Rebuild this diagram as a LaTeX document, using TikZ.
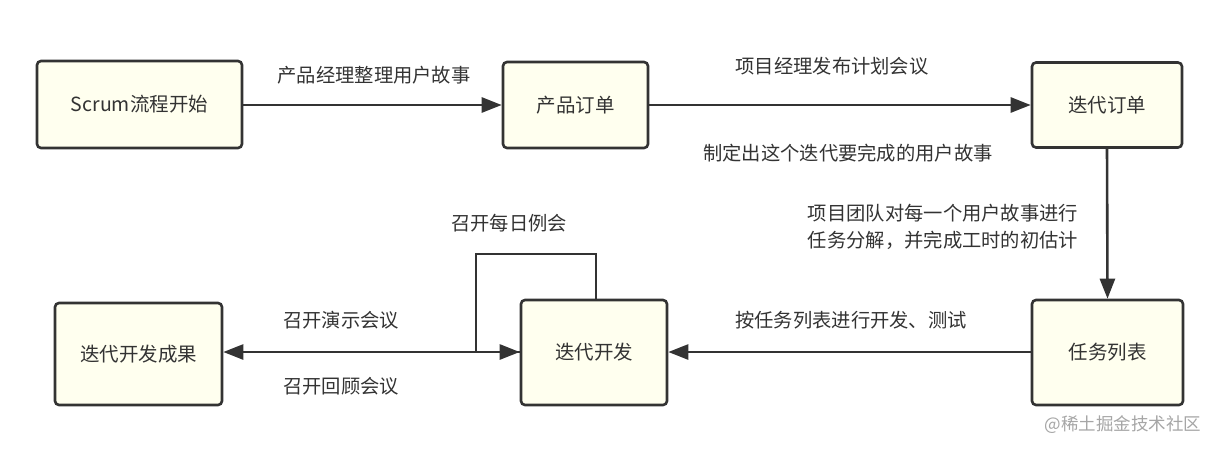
\documentclass[tikz,border=0pt]{standalone}
\usepackage{fontspec}
\setmainfont{Noto Sans CJK SC}
\usetikzlibrary{arrows.meta}
\definecolor{boxfill}{HTML}{FFFFEF}
\definecolor{linec}{HTML}{333333}
\definecolor{textc}{HTML}{333333}
\tikzset{
  box/.style={draw=linec, fill=boxfill, line width=2.6pt, rounded corners=4pt, inner sep=0pt, font=\fontsize{19.5}{23}\selectfont, text=textc},
  conn/.style={draw=linec, line width=2.6pt, -{Triangle[length=20pt,width=15pt]}},
  plain/.style={draw=linec, line width=2.6pt},
  lbl/.style={font=\fontsize{19.3}{27}\selectfont, text=textc, inner sep=0pt, align=left},
}
\begin{document}
\begin{tikzpicture}[x=1pt,y=-1pt]
\useasboundingbox[fill=white] (0,0) rectangle (1220,451);
\node[box, minimum width=205pt, minimum height=87pt] (b1) at (139.5,104.5) {Scrum流程开始};
\node[box, minimum width=145pt, minimum height=86pt] (b2) at (575.5,105) {产品订单};
\node[box, minimum width=150pt, minimum height=85pt] (b3) at (1107,105) {迭代订单};
\node[box, minimum width=151pt, minimum height=105pt] (b4) at (1107.5,352.5) {任务列表};
\node[box, minimum width=146pt, minimum height=105pt] (b5) at (594,352.5) {迭代开发};
\node[box, minimum width=167pt, minimum height=102pt] (b6) at (138.5,354) {迭代开发成果};
\coordinate (l1) at (596,254);
\coordinate (l2) at (476,254);
\coordinate (l3) at (476,352);
\draw[conn] (b1.east |- 0,105) -- (b2.west |- 0,105);
\draw[conn] (b2.east |- 0,105) -- (b3.west |- 0,105);
\draw[conn] (b3.south) -- (b4.north);
\draw[conn] (b4.west |- 0,352) -- (b5.east |- 0,352);
\draw[conn] (b5.west |- 0,352) -- (b6.east |- 0,352);
\draw[plain] (b5.north -| l1) -- (l1) -- (l2) -- (l3);
\draw[conn] (l3) -- (b5.west |- l3);
\node[lbl] (t1) at (374,75) {产品经理整理用户故事};
\node[lbl] (t2) at (832,66) {项目经理发布计划会议};
\node[lbl] (t3) at (848,153) {制定出这个迭代要完成的用户故事};
\node[lbl] (t4) at (943,227) {项目团队对每一个用户故事进行\\任务分解，并完成工时的初估计};
\node[lbl] (t5) at (509,223) {召开每日例会};
\node[lbl] (t6) at (341,320) {召开演示会议};
\node[lbl] (t7) at (341,386) {召开回顾会议};
\node[lbl] (t8) at (851,320) {按任务列表进行开发、测试};
\node[font=\fontsize{17.5}{20}\selectfont, text=black!35, inner sep=0pt] (wm) at (1123,425) {@稀土掘金技术社区};
\end{tikzpicture}
\end{document}
